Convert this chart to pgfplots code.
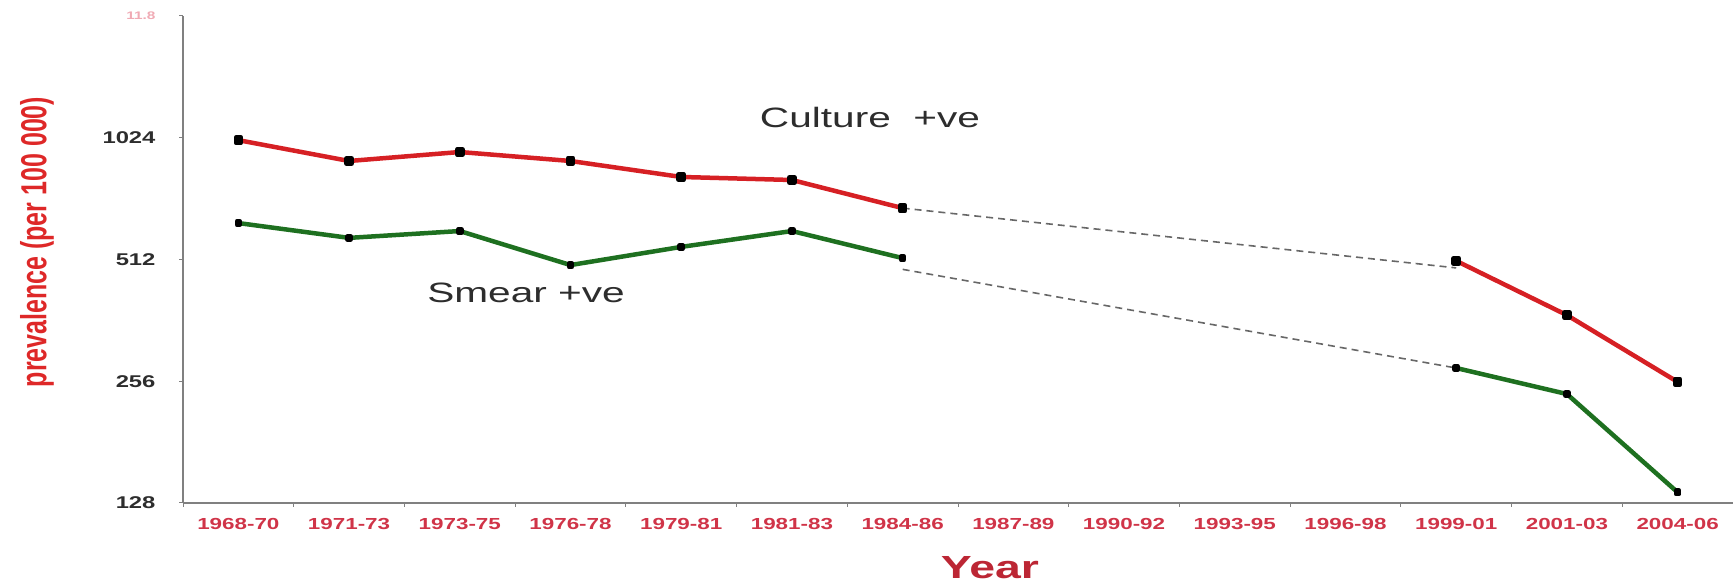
\documentclass[border=0pt]{standalone}
\usepackage{fontspec}
\setmainfont{Liberation Sans}
\usepackage{graphicx}
\usepackage{pgfplots}
\usepackage{pgfplotstable}
\pgfplotsset{compat=1.18}

\definecolor{culture}{RGB}{214,32,36}
\definecolor{smear}{RGB}{30,112,32}
\definecolor{axisgray}{RGB}{128,128,128}
\definecolor{ticklab}{RGB}{208,52,72}
\definecolor{ylab}{RGB}{222,40,40}
\definecolor{yearlab}{RGB}{188,38,52}
\definecolor{ghost}{RGB}{240,170,180}
\definecolor{txt}{RGB}{45,45,45}

% text in the source is stretched sideways
\newcommand{\wide}[1]{\scalebox{1.4}[1]{#1}}

% culture positive, before and after the gap
\pgfplotstableread{
x y
0 1010
1 897
2 944
3 897
4 819
5 805
6 686
}\cultureA
\pgfplotstableread{
x y
11 508
12 373
13 255
}\cultureB
% smear positive
\pgfplotstableread{
x y
0 630
1 579
2 602
3 496
4 550
5 602
6 516
}\smearA
\pgfplotstableread{
x y
11 276
12 238
13 136
}\smearB

\begin{document}
\begin{tikzpicture}
\useasboundingbox (0,0) rectangle (1733pt,585pt);
\begin{axis}[
  at={(183pt,82pt)}, anchor=south west,
  scale only axis, width=1550pt, height=487pt,
  xmin=-0.5, xmax=13.5,
  ymode=log, log basis y=2, ymin=128, ymax=2048,
  axis x line*=bottom, axis y line*=left,
  axis line style={axisgray, line width=1.5pt, -},
  tick align=outside,
  major tick length=4pt, minor tick length=4pt,
  xtick={0,...,13},
  minor xtick={-0.5,0.5,...,13.5},
  major x tick style={draw=none},
  minor x tick style={axisgray, line width=1pt},
  ytick={128,256,512,1024,2048},
  y tick style={axisgray, line width=1pt},
  xticklabels={\wide{1968-70},\wide{1971-73},\wide{1973-75},\wide{1976-78},
    \wide{1979-81},\wide{1981-83},\wide{1984-86},\wide{1987-89},\wide{1990-92},
    \wide{1993-95},\wide{1996-98},\wide{1999-01},\wide{2001-03},\wide{2004-06}},
  yticklabels={\wide{128},\wide{256},\wide{512},\wide{1024},
    {\textcolor{ghost}{\fontsize{11}{11}\selectfont\wide{11.8}}}},
  xticklabel style={font=\bfseries\fontsize{16}{18}\selectfont, text=ticklab, yshift=-8pt},
  yticklabel style={font=\bfseries\fontsize{17}{19}\selectfont, text=txt, xshift=-20pt},
  clip=false,
]
\addplot[culture, line width=4.5pt, line join=round,
  mark=square*, mark size=2.6pt, mark options={black, fill=black}] table {\cultureA};
\addplot[culture, line width=4.5pt, line join=round,
  mark=square*, mark size=2.6pt, mark options={black, fill=black}] table {\cultureB};
\addplot[smear, line width=4.5pt, line join=round,
  mark=square*, mark size=1.6pt, mark options={black, fill=black}] table {\smearA};
\addplot[smear, line width=4.5pt, line join=round,
  mark=square*, mark size=1.6pt, mark options={black, fill=black}] table {\smearB};
% gap between surveys
\addplot[axisgray!80!black, line width=1.6pt, dash pattern=on 7pt off 5pt] coordinates {(6,686) (11,488)};
\addplot[axisgray!80!black, line width=1.6pt, dash pattern=on 7pt off 5pt] coordinates {(6,484) (11,276)};
\end{axis}
\node[text=txt, font=\fontsize{28}{30}\selectfont] at (870pt,467pt) {\scalebox{1.45}[1]{Culture\ \ +ve}};
\node[text=txt, font=\fontsize{28}{30}\selectfont] at (526pt,292pt) {\scalebox{1.45}[1]{Smear +ve}};
\node[rotate=90, text=ylab, font=\bfseries\fontsize{25}{27}\selectfont] at (37pt,343pt)
  {\scalebox{1}[1.45]{prevalence (per 100 000)}};
\node[text=yearlab, font=\bfseries\fontsize{32}{34}\selectfont] at (990pt,17pt) {\scalebox{1.45}[1]{Year}};
\end{tikzpicture}
\end{document}
